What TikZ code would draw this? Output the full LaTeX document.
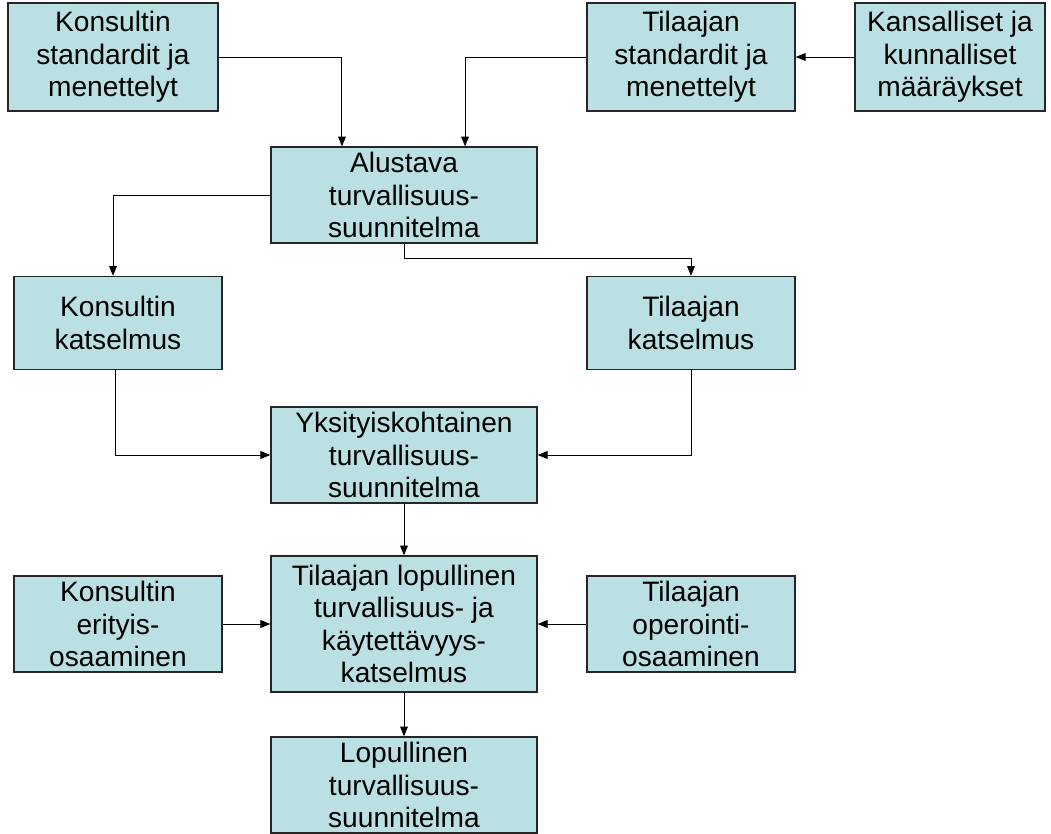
\documentclass[tikz,border=0pt]{standalone}
\usepackage{fontspec}
\setmainfont{Liberation Sans}
\usetikzlibrary{arrows.meta}
\definecolor{boxfill}{RGB}{186,224,227}
\begin{document}
\begin{tikzpicture}[x=0.025cm,y=-0.025cm,
		box/.style={draw=black!85,line width=0.9pt,fill=boxfill,align=center,
			inner sep=0pt,font=\fontsize{20}{23}\selectfont},
		arr/.style={line width=0.7pt,-{Triangle[length=7pt,width=5.5pt]}}]
	\useasboundingbox (0,0) rectangle (1051,834);
	% top row
	\node[box,minimum width=5.25cm,minimum height=2.7cm] (kstd) at (113,57) {Konsultin\\standardit ja\\menettelyt};
	\node[box,minimum width=5.2cm,minimum height=2.7cm] (tstd) at (691,57) {Tilaajan\\standardit ja\\menettelyt};
	\node[box,minimum width=4.75cm,minimum height=2.7cm] (kans) at (950,57) {Kansalliset ja\\kunnalliset\\määräykset};
	% middle column
	\node[box,minimum width=6.65cm,minimum height=2.4cm] (alustava) at (404,195) {Alustava\\turvallisuus-\\suunnitelma};
	\node[box,minimum width=6.65cm,minimum height=2.4cm] (yksi) at (404,455) {Yksityiskohtainen\\turvallisuus-\\suunnitelma};
	\node[box,minimum width=6.65cm,minimum height=3.4cm] (tlop) at (404,624) {Tilaajan lopullinen\\turvallisuus- ja\\käytettävyys-\\katselmus};
	\node[box,minimum width=6.65cm,minimum height=2.4cm] (lopp) at (404,785) {Lopullinen\\turvallisuus-\\suunnitelma};
	% side boxes
	\node[box,minimum width=5.2cm,minimum height=2.325cm] (kkats) at (118,323) {Konsultin\\katselmus};
	\node[box,minimum width=5.2cm,minimum height=2.325cm] (tkats) at (691,323) {Tilaajan\\katselmus};
	\node[box,minimum width=5.2cm,minimum height=2.4cm] (kerit) at (118,624) {Konsultin\\erityis-\\osaaminen};
	\node[box,minimum width=5.2cm,minimum height=2.4cm] (toper) at (691,624) {Tilaajan\\operointi-\\osaaminen};
	% connectors
	\draw[arr] (kstd.east) -| ([xshift=-1.55cm]alustava.north);
	\draw[arr] (tstd.west) -| ([xshift=1.525cm]alustava.north);
	\draw[arr] (alustava.west) -| ([xshift=-0.125cm]kkats.north);
	\draw[arr] (alustava.south) -- ++(0,15) -| (tkats.north);
	\draw[arr] ([xshift=-0.075cm]kkats.south) |- (yksi.west);
	\draw[arr] (tkats.south) |- (yksi.east);
	\foreach \a/\b in {kans/tstd,yksi/tlop,kerit/tlop,toper/tlop,tlop/lopp}
	\draw[arr] (\a) -- (\b);
\end{tikzpicture}
\end{document}
